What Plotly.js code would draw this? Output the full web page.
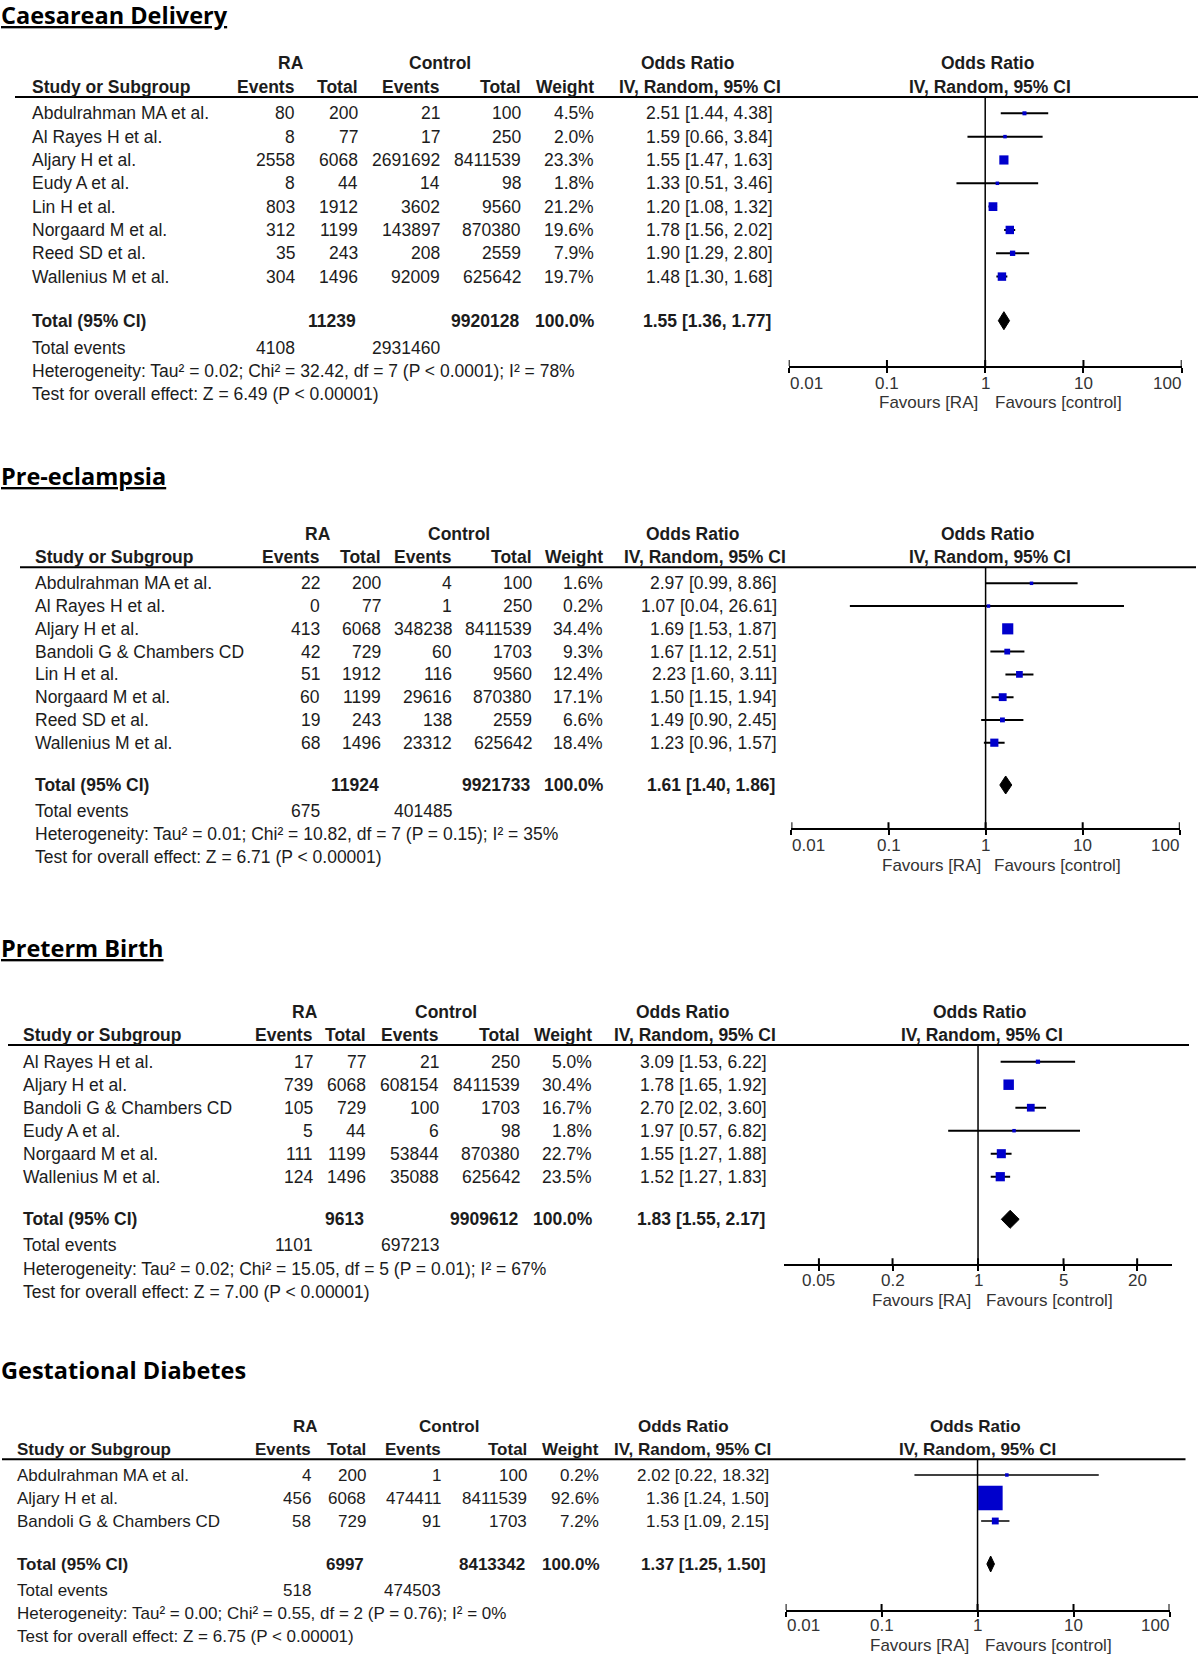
<!DOCTYPE html>
<html><head><meta charset="utf-8">
<script src="https://cdn.plot.ly/plotly-3.0.1.min.js"></script>
<style>html,body{margin:0;padding:0;background:#fff}#chart{width:1200px;height:1656px}</style>
</head><body><div id="chart"></div>
<script>
// ================= DATA =================
// --- Caesarean Delivery ---
const cdStudy  = ["Abdulrahman MA et al.","Al Rayes H et al.","Aljary H et al.","Eudy A et al.","Lin H et al.","Norgaard M et al.","Reed SD et al.","Wallenius M et al."];
const cdRaEv   = [80, 8, 2558, 8, 803, 312, 35, 304];
const cdRaTot  = [200, 77, 6068, 44, 1912, 1199, 243, 1496];
const cdCtEv   = [21, 17, 2691692, 14, 3602, 143897, 208, 92009];
const cdCtTot  = [100, 250, 8411539, 98, 9560, 870380, 2559, 625642];
const cdWeight = [4.5, 2.0, 23.3, 1.8, 21.2, 19.6, 7.9, 19.7];
const cdOR     = [2.51, 1.59, 1.55, 1.33, 1.20, 1.78, 1.90, 1.48];
const cdLo     = [1.44, 0.66, 1.47, 0.51, 1.08, 1.56, 1.29, 1.30];
const cdHi     = [4.38, 3.84, 1.63, 3.46, 1.32, 2.02, 2.80, 1.68];
const cdTotalN = [11239, 9920128];
const cdTotalEv = [4108, 2931460];
const cdPooled = [1.55, 1.36, 1.77];
const cdHet  = "Heterogeneity: Tau² = 0.02; Chi² = 32.42, df = 7 (P &lt; 0.0001); I² = 78%";
const cdTest = "Test for overall effect: Z = 6.49 (P &lt; 0.00001)";

// --- Pre-eclampsia ---
const peStudy  = ["Abdulrahman MA et al.","Al Rayes H et al.","Aljary H et al.","Bandoli G & Chambers CD","Lin H et al.","Norgaard M et al.","Reed SD et al.","Wallenius M et al."];
const peRaEv   = [22, 0, 413, 42, 51, 60, 19, 68];
const peRaTot  = [200, 77, 6068, 729, 1912, 1199, 243, 1496];
const peCtEv   = [4, 1, 348238, 60, 116, 29616, 138, 23312];
const peCtTot  = [100, 250, 8411539, 1703, 9560, 870380, 2559, 625642];
const peWeight = [1.6, 0.2, 34.4, 9.3, 12.4, 17.1, 6.6, 18.4];
const peOR     = [2.97, 1.07, 1.69, 1.67, 2.23, 1.50, 1.49, 1.23];
const peLo     = [0.99, 0.04, 1.53, 1.12, 1.60, 1.15, 0.90, 0.96];
const peHi     = [8.86, 26.61, 1.87, 2.51, 3.11, 1.94, 2.45, 1.57];
const peTotalN = [11924, 9921733];
const peTotalEv = [675, 401485];
const pePooled = [1.61, 1.40, 1.86];
const peHet  = "Heterogeneity: Tau² = 0.01; Chi² = 10.82, df = 7 (P = 0.15); I² = 35%";
const peTest = "Test for overall effect: Z = 6.71 (P &lt; 0.00001)";

// --- Preterm Birth ---
const pbStudy  = ["Al Rayes H et al.","Aljary H et al.","Bandoli G & Chambers CD","Eudy A et al.","Norgaard M et al.","Wallenius M et al."];
const pbRaEv   = [17, 739, 105, 5, 111, 124];
const pbRaTot  = [77, 6068, 729, 44, 1199, 1496];
const pbCtEv   = [21, 608154, 100, 6, 53844, 35088];
const pbCtTot  = [250, 8411539, 1703, 98, 870380, 625642];
const pbWeight = [5.0, 30.4, 16.7, 1.8, 22.7, 23.5];
const pbOR     = [3.09, 1.78, 2.70, 1.97, 1.55, 1.52];
const pbLo     = [1.53, 1.65, 2.02, 0.57, 1.27, 1.27];
const pbHi     = [6.22, 1.92, 3.60, 6.82, 1.88, 1.83];
const pbTotalN = [9613, 9909612];
const pbTotalEv = [1101, 697213];
const pbPooled = [1.83, 1.55, 2.17];
const pbHet  = "Heterogeneity: Tau² = 0.02; Chi² = 15.05, df = 5 (P = 0.01); I² = 67%";
const pbTest = "Test for overall effect: Z = 7.00 (P &lt; 0.00001)";

// --- Gestational Diabetes ---
const gdStudy  = ["Abdulrahman MA et al.","Aljary H et al.","Bandoli G & Chambers CD"];
const gdRaEv   = [4, 456, 58];
const gdRaTot  = [200, 6068, 729];
const gdCtEv   = [1, 474411, 91];
const gdCtTot  = [100, 8411539, 1703];
const gdWeight = [0.2, 92.6, 7.2];
const gdOR     = [2.02, 1.36, 1.53];
const gdLo     = [0.22, 1.24, 1.09];
const gdHi     = [18.32, 1.50, 2.15];
const gdTotalN = [6997, 8413342];
const gdTotalEv = [518, 474503];
const gdPooled = [1.37, 1.25, 1.50];
const gdHet  = "Heterogeneity: Tau² = 0.00; Chi² = 0.55, df = 2 (P = 0.76); I² = 0%";
const gdTest = "Test for overall effect: Z = 6.75 (P &lt; 0.00001)";

// axis ticks
const ticksStd = [0.01, 0.1, 1, 10, 100];
const ticksStdText = ["0.01", "0.1", "1", "10", "100"];
const ticksPb = [0.05, 0.2, 1, 5, 20];
const ticksPbText = ["0.05", "0.2", "1", "5", "20"];

// ================= LAYOUT / STYLE =================
const W = 1200, H = 1656;
const TF = '"Liberation Sans", Arial, sans-serif';
const TITLEF = '"Open Sans", "Noto Sans", sans-serif';
const TC = '#1c1c1c';
const AXC = '#333333';
const BLUE = '#0000cc';

const panels = [
 {title:'Caesarean Delivery', ul:true, titleY:15.5,
  study:cdStudy, raEv:cdRaEv, raTot:cdRaTot, ctEv:cdCtEv, ctTot:cdCtTot, wt:cdWeight, or:cdOR, lo:cdLo, hi:cdHi,
  totN:cdTotalN, totEv:cdTotalEv, pooled:cdPooled, het:cdHet, test:cdTest, ticks:ticksStd, tickText:ticksStdText, endAlign:true,
  g:{fs:17.5, groupY:63, headY:87, lineY:97, lineX0:15, lineX1:1198, row0:113.3, step:23.33,
     totalY:320.7, evY:347.7, hetY:370.7, testY:394.3,
     name:30.6, raEv:296, raTot:358.5, ctEv:440.5, ctTot:522, wt:595, ci:774,
     raC:291, ctC:440, orC:687, ivC:700, fOrC:987, fIvC:990,
     ax0:788.7, ax1:1181.7, range:[-2,2], axY:366, tickY:383, favY:403, favRA:928, favCT:1058, sq:1.9, diamH:9, lw:2}},
 {title:'Pre-eclampsia', ul:true, titleY:476,
  study:peStudy, raEv:peRaEv, raTot:peRaTot, ctEv:peCtEv, ctTot:peCtTot, wt:peWeight, or:peOR, lo:peLo, hi:peHi,
  totN:peTotalN, totEv:peTotalEv, pooled:pePooled, het:peHet, test:peTest, ticks:ticksStd, tickText:ticksStdText, endAlign:true,
  g:{fs:17.5, groupY:534, headY:557.3, lineY:567.3, lineX0:20, lineX1:1196, row0:583.3, step:22.77,
     totalY:785, evY:810.7, hetY:834, testY:856.7,
     name:33.7, raEv:321, raTot:382, ctEv:453, ctTot:532.5, wt:604, ci:778,
     raC:318, ctC:459, orC:692.6, ivC:705, fOrC:987, fIvC:990,
     ax0:791.4, ax1:1179.8, range:[-2,2], axY:828.3, tickY:845, favY:865, favRA:931, favCT:1057, sq:1.9, diamH:9, lw:2}},
 {title:'Preterm Birth', ul:true, titleY:947.5,
  study:pbStudy, raEv:pbRaEv, raTot:pbRaTot, ctEv:pbCtEv, ctTot:pbCtTot, wt:pbWeight, or:pbOR, lo:pbLo, hi:pbHi,
  totN:pbTotalN, totEv:pbTotalEv, pooled:pbPooled, het:pbHet, test:pbTest, ticks:ticksPb, tickText:ticksPbText, endAlign:false,
  g:{fs:17.5, groupY:1011.7, headY:1035, lineY:1045, lineX0:8, lineX1:1189, row0:1061.7, step:23.0,
     totalY:1219.3, evY:1245, hetY:1269.3, testY:1291.7,
     name:22, raEv:313.5, raTot:367.4, ctEv:440, ctTot:521, wt:592.5, ci:768.4,
     raC:305, ctC:446, orC:682, ivC:695, fOrC:979, fIvC:981.5,
     ax0:783.7, ax1:1172, range:[-1.589,1.586], axY:1264.3, tickY:1280, favY:1300, favRA:921.5, favCT:1049.7, sq:1.9, diamH:9, lw:2}},
 {title:'Gestational Diabetes', ul:false, titleY:1370,
  study:gdStudy, raEv:gdRaEv, raTot:gdRaTot, ctEv:gdCtEv, ctTot:gdCtTot, wt:gdWeight, or:gdOR, lo:gdLo, hi:gdHi,
  totN:gdTotalN, totEv:gdTotalEv, pooled:gdPooled, het:gdHet, test:gdTest, ticks:ticksStd, tickText:ticksStdText, endAlign:true,
  g:{fs:17, groupY:1426.7, headY:1449, lineY:1459.3, lineX0:2, lineX1:1185.5, row0:1475, step:23.0,
     totalY:1564, evY:1590, hetY:1613.3, testY:1636,
     name:16, raEv:312, raTot:367.4, ctEv:441.5, ctTot:528, wt:600, ci:769.5,
     raC:305, ctC:448.5, orC:684, ivC:692, fOrC:975.8, fIvC:977,
     ax0:785.6, ax1:1169.5, range:[-2,2], axY:1610, tickY:1625.5, favY:1645, favRA:919.6, favCT:1048.5, sq:2.55, diamH:8, lw:1.5}}
];

const px = x => x / W;
const py = y => 1 - y / H;
const annotations = [];
const shapes = [];
const traces = [];
const layout = {width: W, height: H, margin:{l:0,r:0,t:0,b:0}, paper_bgcolor:'#fff', plot_bgcolor:'rgba(0,0,0,0)', showlegend:false};

function txt(x, y, text, anchor, size, opts) {
  opts = opts || {};
  annotations.push({xref:'paper', yref:'paper', x:px(x), y:py(y), text:text, showarrow:false,
    xanchor:anchor, yanchor:'middle', borderpad:0,
    font:{family: opts.family || TF, size:size, color: opts.color || TC}});
}
const ci = (o,l,h) => o.toFixed(2) + ' [' + l.toFixed(2) + ', ' + h.toFixed(2) + ']';

panels.forEach((p, k) => {
  const g = p.g, fs = g.fs, s = k === 0 ? '' : String(k + 1);
  const B = t => '<b>' + t + '</b>';
  // title
  txt(0, p.titleY, p.ul ? '<b><u>' + p.title + '</u></b>' : '<b>' + p.title + '</b>', 'left', 23.5, {family: TITLEF, color:'#000'});
  // header
  txt(g.raC, g.groupY, B('RA'), 'center', fs);
  txt(g.ctC, g.groupY, B('Control'), 'center', fs);
  txt(g.orC, g.groupY, B('Odds Ratio'), 'center', fs);
  txt(g.fOrC, g.groupY, B('Odds Ratio'), 'center', fs);
  txt(g.name, g.headY, B('Study or Subgroup'), 'left', fs);
  txt(g.raEv, g.headY, B('Events'), 'right', fs);
  txt(g.raTot, g.headY, B('Total'), 'right', fs);
  txt(g.ctEv, g.headY, B('Events'), 'right', fs);
  txt(g.ctTot, g.headY, B('Total'), 'right', fs);
  txt(g.wt, g.headY, B('Weight'), 'right', fs);
  txt(g.ivC, g.headY, B('IV, Random, 95% CI'), 'center', fs);
  txt(g.fIvC, g.headY, B('IV, Random, 95% CI'), 'center', fs);
  // rows
  p.study.forEach((name, i) => {
    const y = g.row0 + i * g.step;
    txt(g.name, y, name.replace('&', '&amp;'), 'left', fs);
    txt(g.raEv, y, String(p.raEv[i]), 'right', fs);
    txt(g.raTot, y, String(p.raTot[i]), 'right', fs);
    txt(g.ctEv, y, String(p.ctEv[i]), 'right', fs);
    txt(g.ctTot, y, String(p.ctTot[i]), 'right', fs);
    txt(g.wt, y, p.wt[i].toFixed(1) + '%', 'right', fs);
    txt(g.ci, y, ci(p.or[i], p.lo[i], p.hi[i]), 'right', fs);
  });
  // totals
  txt(g.name, g.totalY, B('Total (95% CI)'), 'left', fs);
  txt(g.raTot - 2, g.totalY, B(String(p.totN[0])), 'right', fs);
  txt(g.ctTot - 2, g.totalY, B(String(p.totN[1])), 'right', fs);
  txt(g.wt + 1, g.totalY, B('100.0%'), 'right', fs);
  txt(g.ci - 2, g.totalY, B(ci(p.pooled[0], p.pooled[1], p.pooled[2])), 'right', fs);
  txt(g.name, g.evY, 'Total events', 'left', fs);
  txt(g.raEv, g.evY, String(p.totEv[0]), 'right', fs);
  txt(g.ctEv, g.evY, String(p.totEv[1]), 'right', fs);
  txt(g.name, g.hetY, p.het, 'left', fs);
  txt(g.name, g.testY, p.test, 'left', fs);
  // favours labels
  txt(g.favRA, g.favY, 'Favours [RA]', 'center', 17, {color: AXC});
  txt(g.favCT, g.favY, 'Favours [control]', 'center', 17, {color: AXC});

  // header rule
  shapes.push({type:'line', xref:'paper', yref:'paper', x0:px(g.lineX0), x1:px(g.lineX1), y0:py(g.lineY), y1:py(g.lineY), line:{color:'#000', width:2}});

  // axes
  const idx = v => (v - g.row0) / g.step;
  layout['xaxis' + s] = {type:'log', domain:[px(g.ax0), px(g.ax1)], range:g.range, anchor:'y' + s,
    showgrid:false, zeroline:false, showline:true, linecolor:'#000', linewidth:2,
    ticks:'outside', ticklen:5, tickwidth:2, tickcolor:'#000',
    tickvals:p.ticks, showticklabels:false, fixedrange:true};
  layout['yaxis' + s] = {domain:[py(g.axY), py(g.lineY)], range:[idx(g.axY), idx(g.lineY)], visible:false,
    showgrid:false, zeroline:false, fixedrange:true, anchor:'x' + s};

  // tick labels placed on the log axis (annotation x in log10 units)
  p.ticks.forEach((t, j) => {
    let anchor = 'center';
    if (p.endAlign && j === 0) anchor = 'left';
    if (p.endAlign && j === p.ticks.length - 1) anchor = 'right';
    annotations.push({xref:'x' + s, yref:'paper', x:Math.log10(t), y:py(g.tickY), text:p.tickText[j],
      showarrow:false, xanchor:anchor, yanchor:'middle', borderpad:0,
      font:{family:TF, size:17, color:AXC}});
  });

  // line of no effect
  shapes.push({type:'line', xref:'x' + s, yref:'paper', x0:1, x1:1, y0:py(g.lineY), y1:py(g.axY), line:{color:'#000', width:1.5}});
  // upper half of tick marks
  p.ticks.forEach(t => shapes.push({type:'line', xref:'x' + s, yref:'paper', x0:t, x1:t, y0:py(g.axY), y1:py(g.axY - 6), line:{color:'#000', width:2}}));

  // CI lines
  const cx = [], cy = [];
  p.study.forEach((_, i) => { cx.push(p.lo[i], p.hi[i], null); cy.push(i, i, null); });
  traces.push({type:'scatter', mode:'lines', x:cx, y:cy, xaxis:'x' + s, yaxis:'y' + s,
    line:{color:'#000', width:g.lw}, hoverinfo:'skip', cliponaxis:false});
  // squares
  traces.push({type:'scatter', mode:'markers', x:p.or, y:p.study.map((_, i) => i), xaxis:'x' + s, yaxis:'y' + s,
    marker:{symbol:'square', color:BLUE, opacity:1, size:p.wt.map(w => Math.max(3.5, g.sq * Math.sqrt(w))), line:{width:0}},
    hoverinfo:'skip', cliponaxis:false});
  // pooled diamond
  const ti = idx(g.totalY), h = g.diamH / g.step;
  traces.push({type:'scatter', mode:'lines', fill:'toself', fillcolor:'#000',
    x:[p.pooled[1], p.pooled[0], p.pooled[2], p.pooled[0], p.pooled[1]],
    y:[ti, ti - h, ti, ti + h, ti], xaxis:'x' + s, yaxis:'y' + s,
    line:{color:'#000', width:1}, hoverinfo:'skip', cliponaxis:false});
});

layout.annotations = annotations;
layout.shapes = shapes;
Plotly.newPlot('chart', traces, layout, {displayModeBar:false, staticPlot:true});
</script>
</body></html>
